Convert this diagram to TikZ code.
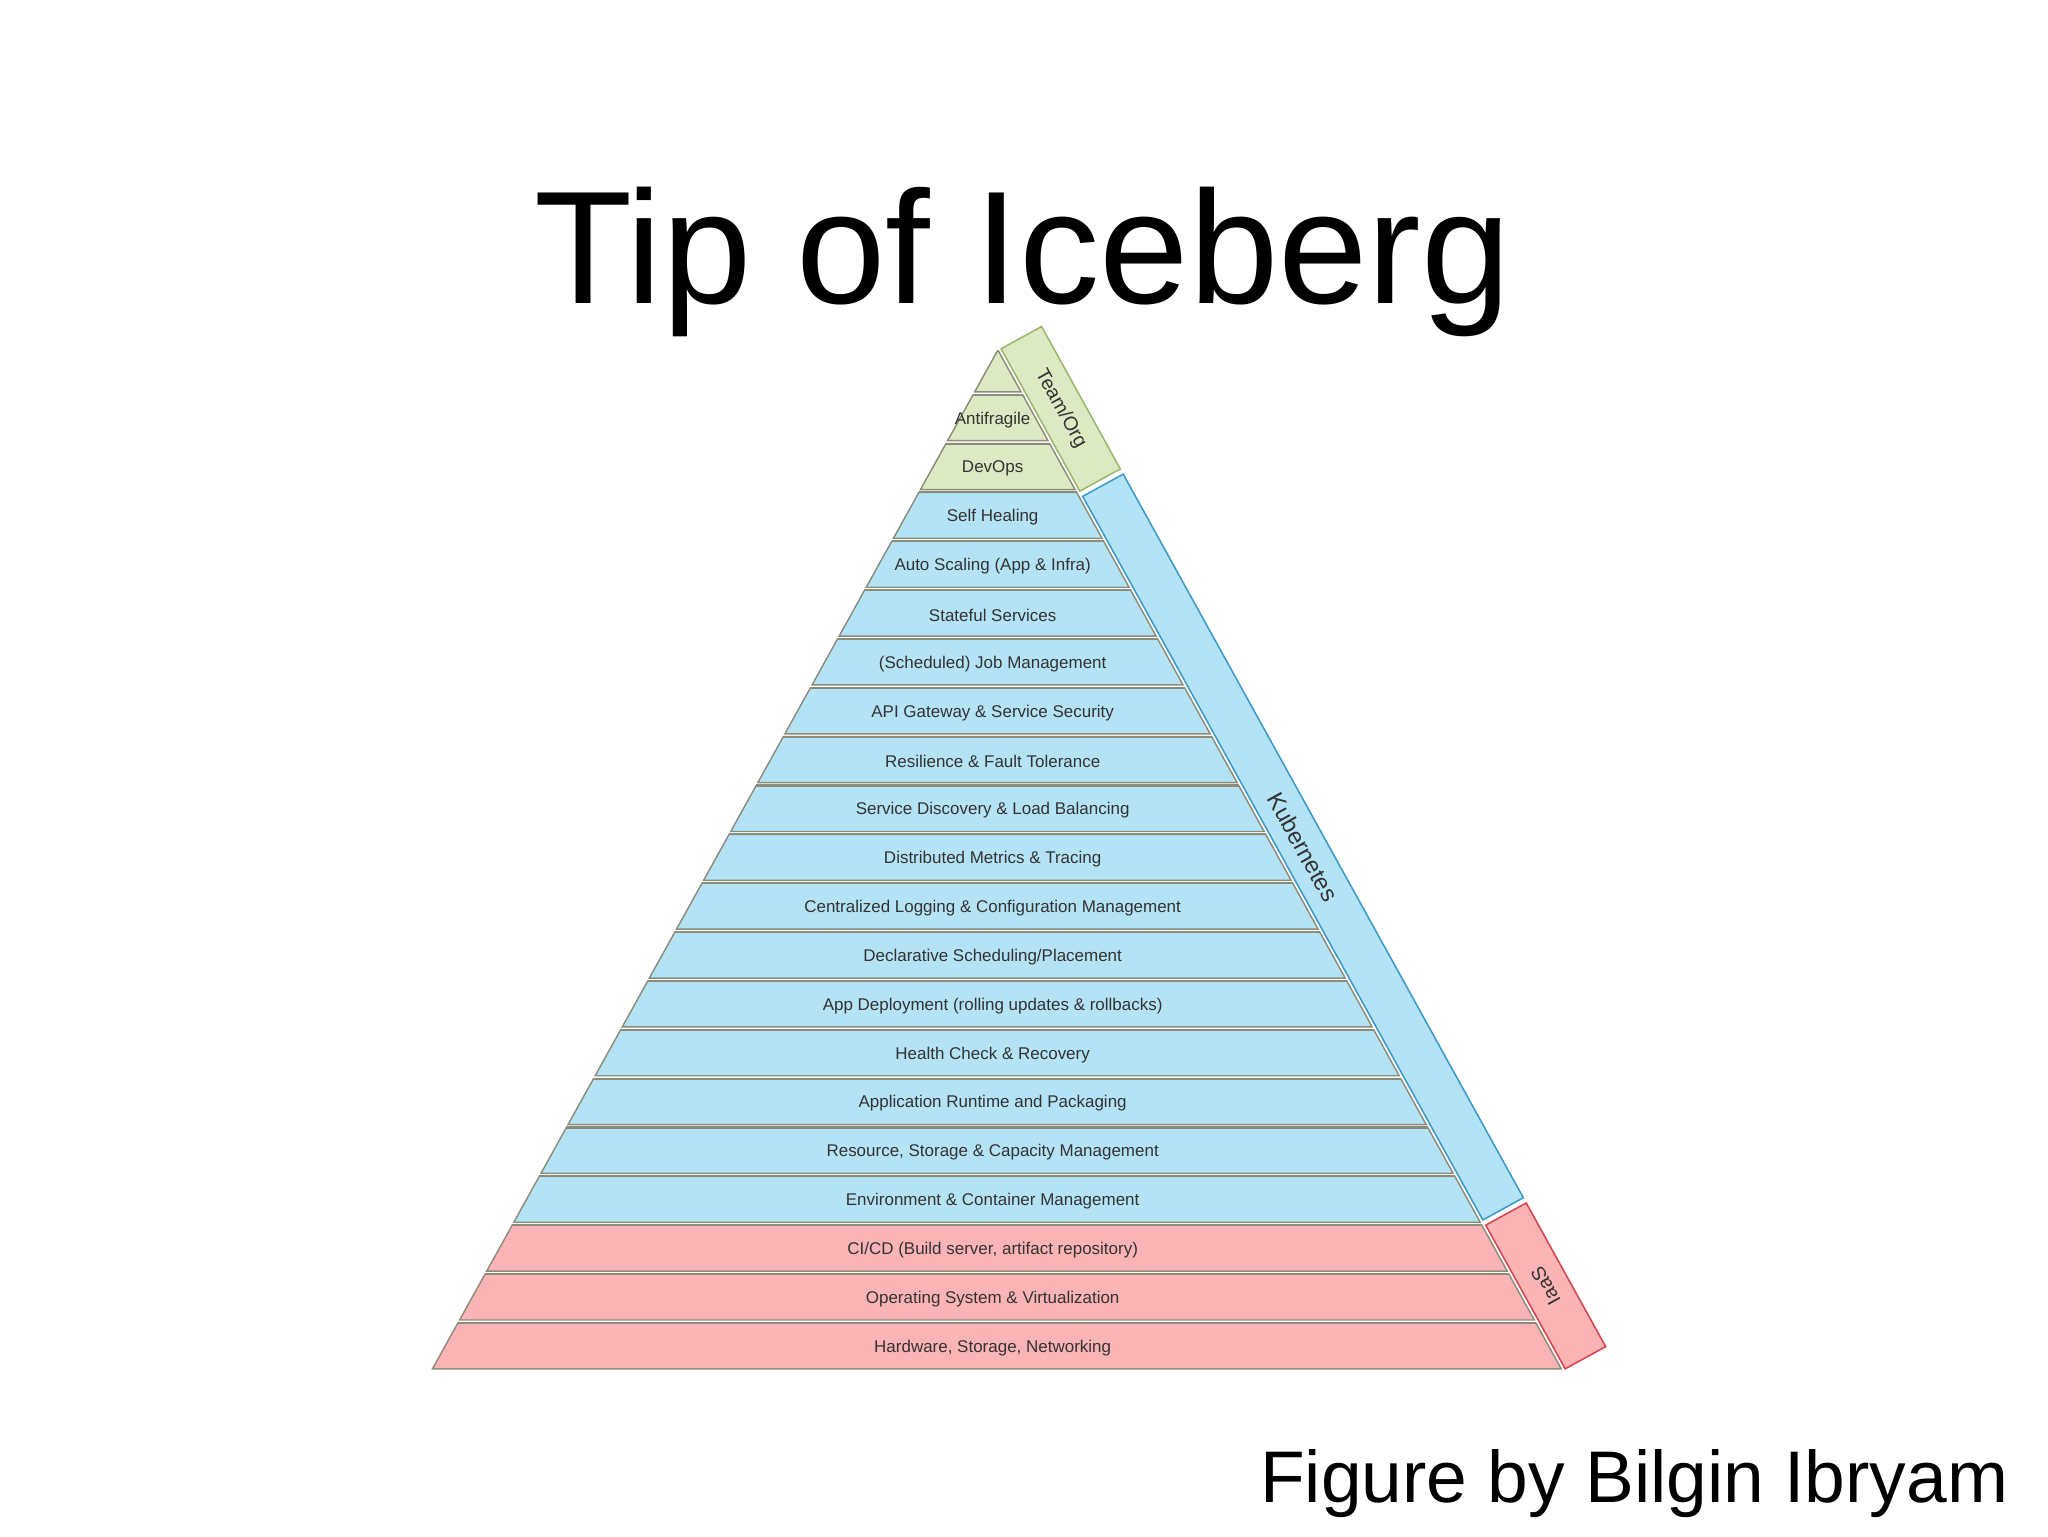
\documentclass[tikz,border=0pt]{standalone}
\usepackage{fontspec}
\setmainfont{Liberation Sans}
\usetikzlibrary{calc}
\definecolor{gfill}{HTML}{DCE9C2}\definecolor{gline}{HTML}{9DB86E}
\definecolor{bfill}{HTML}{B4E3F6}\definecolor{bline}{HTML}{3C9BC8}
\definecolor{rfill}{HTML}{FBB4B5}\definecolor{rline}{HTML}{D8444F}
\definecolor{lline}{HTML}{8C8C7A}\definecolor{ltext}{HTML}{333333}
\tikzset{layertext/.style={font=\fontsize{13}{13}\selectfont,text=ltext,inner sep=0pt},
bandtext/.style={font=\fontsize{15}{15}\selectfont,text=ltext,inner sep=0pt}}
\begin{document}
\begin{tikzpicture}[x=1pt,y=-1pt]
\useasboundingbox (0,0) rectangle (1568,1176);
\node[anchor=base,font=\fontsize{123}{123}\selectfont] (title) at (783,232) {Tip of Iceberg};
\node[anchor=base east,font=\fontsize{56}{56}\selectfont] (credit) at (1541,1150) {Figure by Bilgin Ibryam};
\foreach \i/\t in {1/{Hardware, Storage, Networking},2/{Operating System \& Virtualization},3/{CI/CD (Build server, artifact repository)},4/{Environment \& Container Management},5/{Resource, Storage \& Capacity Management},6/{Application Runtime and Packaging},7/{Health Check \& Recovery},8/{App Deployment (rolling updates \& rollbacks)},9/{Declarative Scheduling/Placement},10/{Centralized Logging \& Configuration Management},11/{Distributed Metrics \& Tracing},12/{Service Discovery \& Load Balancing},13/{Resilience \& Fault Tolerance},14/{API Gateway \& Service Security},15/{(Scheduled) Job Management},16/{Stateful Services},17/{Auto Scaling (App \& Infra)},18/{Self Healing},19/{DevOps},20/{Antifragile},21/{}}{
  \pgfmathsetmacro{\yb}{1048-37.4*(\i-1)}
  \pgfmathsetmacro{\yt}{\i==21 ? 269 : \yb-37.4+2.2}
  \pgfmathsetmacro{\xbl}{764-0.555*(\yb-268)}
  \pgfmathsetmacro{\xbr}{764+0.553*(\yb-268)}
  \pgfmathsetmacro{\xtl}{764-0.555*(\yt-268)}
  \pgfmathsetmacro{\xtr}{764+0.553*(\yt-268)}
  \ifnum\i<4 \def\fc{rfill}\else\ifnum\i<19 \def\fc{bfill}\else\def\fc{gfill}\fi\fi
  \draw[fill=\fc,draw=lline,line width=1.1pt] (\xbl,\yb) -- (\xtl,\yt) -- (\xtr,\yt) -- (\xbr,\yb) -- cycle;
  \draw[lline,line width=1.6pt] (\xtl,\yt) -- (\xtr,\yt);
  \node[layertext] (L\i) at (760,{(\yb+\yt)/2+1.5}) {\t};
}
% side bands
\foreach \n/\ya/\yb/\fc/\lc/\txt/\rot/\fs in {team/267/376/gfill/gline/Team\slash Org/-61/15,kube/380/934/bfill/bline/Kubernetes/-61/18,iaas/938/1048/rfill/rline/IaaS/119/15}{
  \coordinate (\n a) at ({767+0.553*(\ya-268)},\ya);
  \coordinate (\n b) at ({767+0.553*(\yb-268)},\yb);
  \draw[fill=\fc,draw=\lc,line width=1.2pt] (\n a) -- (\n b) -- ($(\n b)+(31,-17)$) -- ($(\n a)+(31,-17)$) -- cycle;
  \node[bandtext,font=\fontsize{\fs}{\fs}\selectfont,rotate=\rot] (\n) at ($($(\n a)!0.5!(\n b)$)+(15.5,-8.5)$) {\txt};
}
\end{tikzpicture}
\end{document}
